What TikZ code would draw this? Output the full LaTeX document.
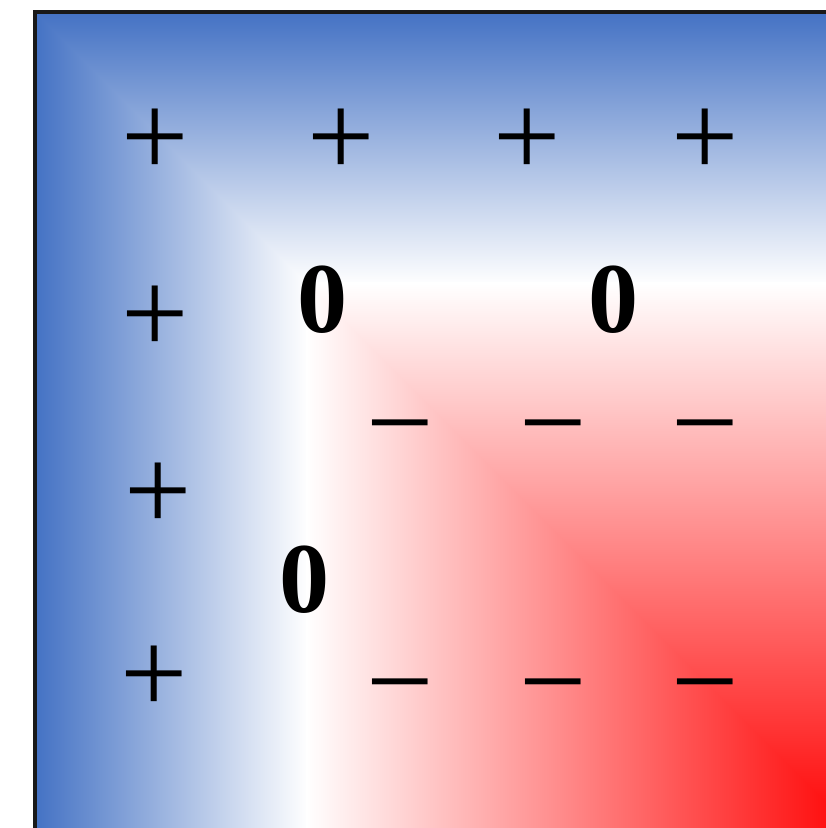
\documentclass[tikz,border=0pt]{standalone}
\usepackage{fontspec}
\setmainfont{Liberation Serif}
\definecolor{edgeblue}{RGB}{68,114,196}
\definecolor{deepred}{RGB}{255,0,0}
\begin{document}
\begin{tikzpicture}[every node/.style={inner sep=0pt,font=\fontsize{34}{34}\selectfont},
  sign/.style={yshift=-0.05cm},
  zero/.style={font=\fontsize{28.5}{28.5}\selectfont\bfseries},
  frameline/.style={line width=1.2pt,black!90}]
\useasboundingbox (0,0) rectangle (8.26,8.28);
\clip (0,0) rectangle (8.26,8.28);
% distance from the top edge
\shade[top color=edgeblue,bottom color=white] (0.35,8.16) rectangle (9,5.43);
\shade[top color=white,bottom color=deepred] (0.35,5.45) rectangle (9,-0.14);
\fill[deepred] (0.35,-0.13) rectangle (9,-1);
% distance from the left edge
\begin{scope}
\clip (0.35,8.16) -- (0.35,-0.84) -- (9.35,-0.84) -- cycle;
\shade[left color=edgeblue,right color=white] (0.35,-1) rectangle (3.08,8.2);
\shade[left color=white,right color=deepred] (3.06,-1) rectangle (8.65,8.2);
\fill[deepred] (8.64,-1) rectangle (9.5,8.2);
\end{scope}
\draw[frameline] (0.35,-0.2) -- (0.35,8.16) -- (8.5,8.16);
% signs
\node[sign] (p1) at (1.55,6.90) {+};
\node[sign] (p2) at (3.41,6.90) {+};
\node[sign] (p3) at (5.27,6.90) {+};
\node[sign] (p4) at (7.05,6.90) {+};
\node[sign] (p5) at (1.55,5.13) {+};
\node[sign] (p6) at (1.58,3.36) {+};
\node[sign] (p7) at (1.54,1.53) {+};
\node[zero] (z1) at (3.23,5.28) {0};
\node[zero] (z2) at (6.14,5.28) {0};
\node[zero] (z3) at (3.05,2.48) {0};
\node[sign] (m1) at (4.00,4.04) {\vphantom{+}−};
\node[sign] (m2) at (5.53,4.04) {\vphantom{+}−};
\node[sign] (m3) at (7.05,4.04) {\vphantom{+}−};
\node[sign] (m4) at (4.00,1.45) {\vphantom{+}−};
\node[sign] (m5) at (5.53,1.45) {\vphantom{+}−};
\node[sign] (m6) at (7.05,1.45) {\vphantom{+}−};
\end{tikzpicture}
\end{document}
